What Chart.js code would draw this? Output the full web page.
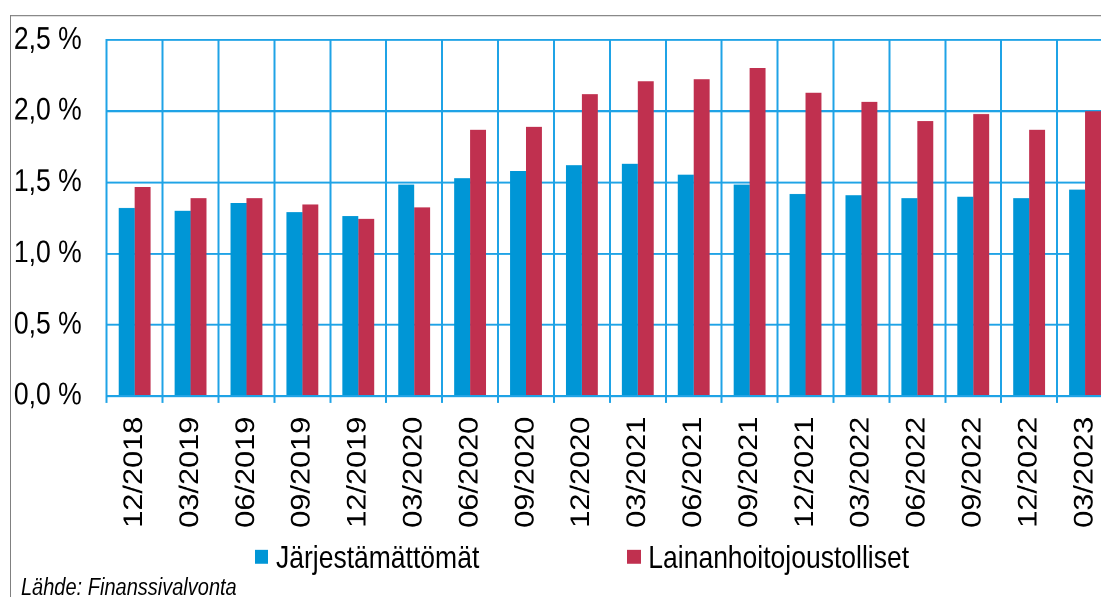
<!DOCTYPE html>
<html><head><meta charset="utf-8">
<script src="https://cdn.jsdelivr.net/npm/chart.js@4/dist/chart.umd.min.js"></script>
<style>
html,body{margin:0;padding:0;overflow:hidden;background:#fff;width:1101px;height:597px;}
#wrap{position:absolute;left:0;top:0;width:1113px;height:515px;transform:scaleY(1.16);transform-origin:0 0;}
#frame{position:absolute;left:10px;top:12.9px;width:1200px;height:700px;border-left:1px solid #808080;border-top:1px solid #808080;}
#c{position:absolute;left:0;top:0;}
.leg{position:absolute;font-family:'Liberation Sans',Arial,sans-serif;font-size:26.5px;line-height:26.5px;color:#000;white-space:nowrap;}
.box{position:absolute;}
#src{position:absolute;left:21px;top:496px;font-family:'Liberation Sans',Arial,sans-serif;font-style:italic;font-size:20px;line-height:20px;color:#000;white-space:nowrap;}
</style>
</head><body>
<div id="wrap">
  <div id="frame"></div>
  <canvas id="c" width="1113" height="515"></canvas>
  <div id="legend"></div>
  <div id="src"></div>
</div>
<script>
const categories = ['12/2018','03/2019','06/2019','09/2019','12/2019','03/2020','06/2020','09/2020','12/2020','03/2021','06/2021','09/2021','12/2021','03/2022','06/2022','09/2022','12/2022','03/2023'];
const jarjestamattomat = [1.32,1.30,1.355,1.29,1.265,1.485,1.53,1.58,1.62,1.63,1.555,1.485,1.42,1.41,1.39,1.40,1.39,1.45];
const lainanhoitojoustolliset = [1.47,1.39,1.39,1.345,1.245,1.325,1.87,1.89,2.12,2.21,2.225,2.305,2.13,2.065,1.93,1.98,1.87,2.0];
const seriesNames = ['Järjestämättömät','Lainanhoitojoustolliset'];
const seriesColors = ['#0096D6','#C0304F'];
const yTickLabels = ['0,0 %','0,5 %','1,0 %','1,5 %','2,0 %','2,5 %'];
const sourceText = 'Lähde: Finanssivalvonta';

const FONT = "'Liberation Sans', Arial, sans-serif";
const GRID = '#1FA3E6';

function zeroPad(s) { s.paddingLeft = 0; s.paddingRight = 0; s.paddingTop = 0; s.paddingBottom = 0; }

const ctx = document.getElementById('c').getContext('2d');
new Chart(ctx, {
  type: 'bar',
  data: {
    labels: categories,
    datasets: [
      {label: seriesNames[0], data: jarjestamattomat, backgroundColor: seriesColors[0], borderWidth: 0, categoryPercentage: 0.57, barPercentage: 1},
      {label: seriesNames[1], data: lainanhoitojoustolliset, backgroundColor: seriesColors[1], borderWidth: 0, categoryPercentage: 0.57, barPercentage: 1}
    ]
  },
  options: {
    responsive: false,
    animation: false,
    devicePixelRatio: 2,
    layout: {padding: {left: 0, right: 0, top: 34.5, bottom: 0}},
    plugins: {legend: {display: false}, tooltip: {enabled: false}},
    scales: {
      x: {
        grid: {color: GRID, lineWidth: 2, tickLength: 6, offset: true, drawTicks: true},
        border: {color: GRID, width: 2},
        ticks: {minRotation: 90, maxRotation: 90, autoSkip: false, padding: 11.8, color: '#000', font: {family: FONT, size: 26.5}},
        afterFit: (s) => { s.height = 173.6; zeroPad(s); }
      },
      y: {
        min: 0, max: 2.5,
        ticks: {stepSize: 0.5, padding: 25, color: '#000', font: {family: FONT, size: 26.5},
                callback: (v, i) => yTickLabels[i]},
        grid: {color: GRID, lineWidth: 1.7, drawTicks: false},
        border: {color: GRID, width: 2},
        afterFit: (s) => { s.width = 106.7; zeroPad(s); }
      }
    }
  }
});

// legend (HTML, built from the series arrays)
const legend = document.getElementById('legend');
const legPos = [{box: 255, boxW: 13, text: 276}, {box: 626.7, boxW: 14, text: 648.3}];
seriesNames.forEach((name, i) => {
  const b = document.createElement('div');
  b.className = 'box';
  b.style.left = legPos[i].box + 'px';
  b.style.top = '474.1px';
  b.style.width = legPos[i].boxW + 'px';
  b.style.height = '12px';
  b.style.background = seriesColors[i];
  legend.appendChild(b);
  const t = document.createElement('div');
  t.className = 'leg';
  t.style.left = legPos[i].text + 'px';
  t.style.top = '467.5px';
  t.textContent = name;
  legend.appendChild(t);
});
document.getElementById('src').textContent = sourceText;
</script>
</body></html>
